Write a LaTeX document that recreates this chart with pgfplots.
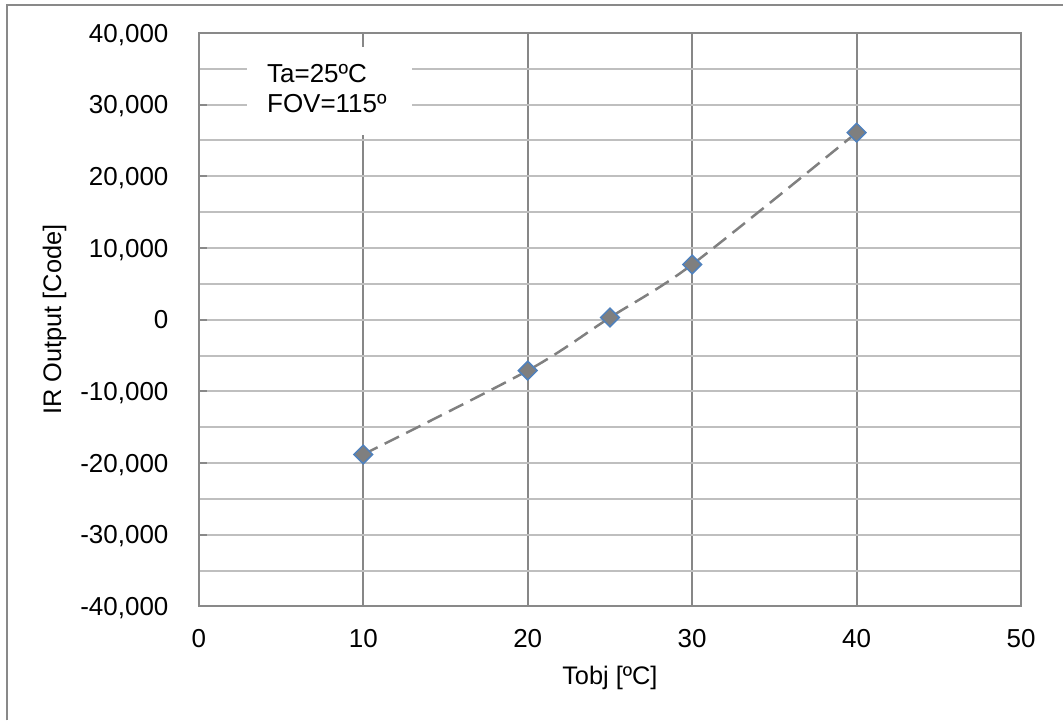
\documentclass[border=0pt]{standalone}
\usepackage{fontspec}
\setmainfont{Liberation Sans}
\usepackage{pgfplots}
\pgfplotsset{compat=1.18}
\definecolor{vgrid}{HTML}{878787}
\definecolor{hgrid}{HTML}{BFBFBF}
\definecolor{frame}{HTML}{898989}
\definecolor{mfill}{HTML}{7F7F7F}
\definecolor{medge}{HTML}{4F81BD}
\definecolor{lgray}{HTML}{808080}
\begin{document}
\begin{tikzpicture}
\begin{axis}[
  scale only axis,
  width=411.5pt, height=287pt,
  xmin=0, xmax=50, ymin=-40000, ymax=40000,
  xtick={0,10,20,30,40,50},
  ytick={-40000,-30000,-20000,-10000,0,10000,20000,30000,40000},
  minor ytick={-35000,-25000,-15000,-5000,5000,15000,25000,35000},
  xmajorgrids, ymajorgrids, yminorgrids,
  x grid style={vgrid, line width=1pt},
  y grid style={hgrid, line width=1pt},
  minor y grid style={hgrid, line width=1pt},
  axis line style={frame, line width=1pt},
  tick align=inside,
  ytick pos=left, xtick pos=bottom,
  major tick length=4pt, minor tick length=0pt,
  every tick/.style={frame, line width=1pt},
  x tick style={draw=none},
  scaled y ticks=false,
  /pgf/number format/assume math mode=true,
  yticklabel={\pgfmathprintnumber[fixed, 1000 sep={,}]{\tick}},
  xticklabel={\pgfmathprintnumber{\tick}},
  ticklabel style={font=\fontsize{13}{15}\selectfont},
  yticklabel style={anchor=east, inner sep=0pt, xshift=-15pt, text depth=0pt},
  xticklabel style={anchor=center, inner sep=0pt, yshift=-16pt, text depth=0pt},
  xlabel={Tobj [ºC]},
  ylabel={IR Output [Code]},
  xlabel style={font=\fontsize{12.7}{15}\selectfont, at={(axis description cs:0.5,0)}, anchor=center, yshift=-34.5pt, text depth=0pt, inner sep=0pt},
  ylabel style={font=\fontsize{12.7}{15}\selectfont, at={(axis description cs:0,0.5)}, anchor=center, yshift=73.5pt, inner sep=0pt, text depth=0pt},
  clip=false,
]
\fill[white] (axis cs:2.92,25784) rectangle (axis cs:12.94,38049);
\node[anchor=base west, inner sep=0pt, font=\fontsize{13}{15}\selectfont] at (axis cs:4.13,33031) {Ta=25ºC};
\node[anchor=base west, inner sep=0pt, font=\fontsize{13}{15}\selectfont] at (axis cs:4.13,28850) {FOV=115º};
\addplot[lgray, line width=1.25pt, dash pattern=on 8pt off 4pt, smooth, tension=0.5] coordinates {
  (10,-18800) (20,-7100) (25,300) (30,7700) (40,26100)
};
\addplot[only marks, mark=square*, mark size=3.3pt, mark options={rotate=45, fill=mfill, draw=medge, line width=0.75pt, solid}] coordinates {
  (10,-18800) (20,-7100) (25,300) (30,7700) (40,26100)
};
\end{axis}
\draw[frame, line width=1pt] ([xshift=-96pt]current axis.south west |- 0,-57pt) -- ([xshift=-96pt,yshift=14pt]current axis.north west) -- ([xshift=21pt,yshift=14pt]current axis.north east);
\useasboundingbox ([xshift=-99.5pt,yshift=-57pt]current axis.south west) rectangle ([xshift=21pt,yshift=16.5pt]current axis.north east);
\end{tikzpicture}
\end{document}
